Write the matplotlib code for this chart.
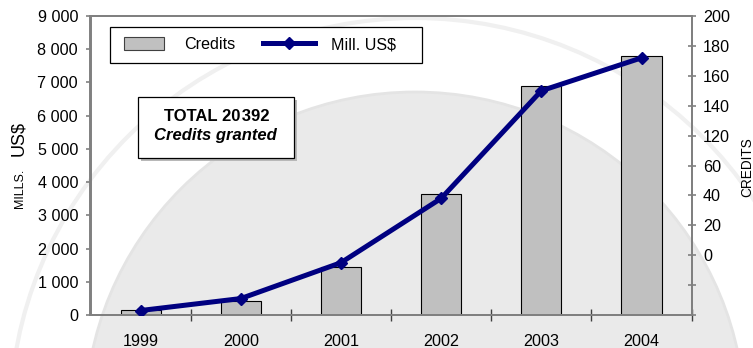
import numpy as np
import matplotlib
matplotlib.use("Agg")
import matplotlib.pyplot as plt
from matplotlib.patches import Rectangle, Ellipse
from matplotlib.transforms import IdentityTransform
from matplotlib.legend_handler import HandlerLine2D
from matplotlib.ticker import FixedLocator, FixedFormatter

plt.rcParams['font.family'] = ['Liberation Sans', 'DejaVu Sans']

# ---- data ----
years = ['1999', '2000', '2001', '2002', '2003', '2004']
credits = [165, 435, 1440, 3650, 6900, 7802]          # credits granted per year
mill_usd = [3, 11, 35, 78, 150, 172]                  # amount, millions of US$
left_ticks = [0, 1000, 2000, 3000, 4000, 5000, 6000, 7000, 8000, 9000]
right_ticks = [0, 20, 40, 60, 80, 100, 120, 140, 160, 180, 200]
right_tick_labels = ['', '', '0', '20', '40', '60', '120', '140', '160', '180', '200']

W, H = 753, 348
fig = plt.figure(figsize=(W / 100, H / 100), dpi=100)

# faint seal in the background (display pixel coordinates)
cx, cy = 415, H - 420
fig.add_artist(Ellipse((cx, cy), 2 * 405, 2 * 402, transform=IdentityTransform(),
                       facecolor='none', edgecolor='#f0f0f0', lw=3, zorder=-10))
fig.add_artist(Ellipse((cx, cy), 2 * 330, 2 * 328, transform=IdentityTransform(),
                       facecolor='#eaeaea', edgecolor='#e4e4e4', lw=2, zorder=-9))

def px(x0, y0, x1, y1):
    return [x0 / W, 1 - y1 / H, (x1 - x0) / W, (y1 - y0) / H]

ax = fig.add_axes(px(90.5, 16, 691.6, 315))
ax.set_facecolor('none')
x = np.arange(len(years))

bars = ax.bar(x, credits, width=0.4, color='#c0c0c0', edgecolor='black',
              linewidth=0.8, label='Credits', zorder=2)
ax.set_xlim(-0.5, len(years) - 0.5)
ax.set_ylim(0, 9000)
ax.yaxis.set_major_locator(FixedLocator(left_ticks))
ax.yaxis.set_major_formatter(FixedFormatter([f"{v:,}".replace(',', ' ') for v in left_ticks]))

# category boundary ticks (major) and year labels (minor)
ax.set_xticks(np.arange(0.5, len(years) - 0.4, 1.0))
ax.set_xticklabels([])
ax.set_xticks(x, minor=True)
ax.set_xticklabels(years, minor=True)
ax.tick_params(axis='x', which='major', direction='inout', length=8,
               width=1, color='#404040')
ax.tick_params(axis='x', which='minor', length=0, pad=14, labelsize=11.6)
ax.tick_params(axis='y', direction='out', length=3.3, width=1.2,
               color='#808080', pad=5.7, labelsize=11.6)

for side in ['left', 'right', 'top', 'bottom']:
    ax.spines[side].set_color('#808080')
    ax.spines[side].set_linewidth(1.4)

ax2 = ax.twinx()
ax2.set_facecolor('none')
line, = ax2.plot(x, mill_usd, color='#000080', lw=3.6, marker='D', ms=6,
                 mec='#000080', mfc='#000080', label='Mill. US$', zorder=3)
ax2.set_ylim(0, 200)
ax2.yaxis.set_major_locator(FixedLocator(right_ticks))
ax2.yaxis.set_major_formatter(FixedFormatter(right_tick_labels))
ax2.tick_params(axis='y', direction='inout', length=6, width=1.2,
                color='#808080', pad=5.2, labelsize=11.6)
for side in ['left', 'right', 'top', 'bottom']:
    ax2.spines[side].set_color('#808080')
    ax2.spines[side].set_linewidth(1.4)


class WideLineHandler(HandlerLine2D):
    def get_xdata(self, legend, xdescent, ydescent, width, height, fontsize):
        xd, xm = super().get_xdata(legend, xdescent, ydescent, width, height, fontsize)
        return [xd[0] - 5.5, xd[-1] + 2.9], xm


# legend frame and entries
ax2.add_patch(Rectangle((110, H - 63.3), 311.7, 36, transform=IdentityTransform(),
                        facecolor='white', edgecolor='black', lw=0.9, zorder=4.5,
                        clip_on=False))
leg = ax2.legend([bars, line], ['Credits', 'Mill. US$'], ncol=2,
                 loc='center left', bbox_to_anchor=(115.7 / W, 1 - 44.7 / H),
                 bbox_transform=fig.transFigure, frameon=False, borderpad=0,
                 fontsize=11.6, handlelength=2.5, handleheight=0.8,
                 handletextpad=1.25, columnspacing=2.2,
                 handler_map={line: WideLineHandler()})
leg.set_zorder(5)
for p in leg.get_patches():
    p.set_edgecolor('#404040')

# total box with shadow
total = sum(credits)
fig.add_artist(Rectangle((141.3, H - 161.3), 156.1, 61.6, transform=IdentityTransform(),
                         facecolor='#b8b8b8', edgecolor='none', zorder=2))
fig.add_artist(Rectangle((138.3, H - 158.3), 156.1, 61.6, transform=IdentityTransform(),
                         facecolor='white', edgecolor='black', lw=0.9, zorder=3))
fig.text(216.4 / W, 1 - 120.7 / H, f"TOTAL {total:,}".replace(',', '\u200a'),
         ha='center', va='baseline', fontsize=12, fontweight='bold', zorder=4)
fig.text(215.5 / W, 1 - 140 / H, 'Credits granted', ha='center', va='baseline',
         fontsize=12, fontweight='bold', fontstyle='italic', zorder=4)

# axis titles
fig.text(23.5 / W, 1 - 139 / H, 'US$', rotation=90, rotation_mode='anchor',
         ha='center', va='baseline', fontsize=13)
fig.text(23 / W, 1 - 188 / H, 'MILLS.', rotation=90, rotation_mode='anchor',
         ha='center', va='baseline', fontsize=9)
fig.text(751 / W, 1 - 167 / H, 'CREDITS', rotation=90, rotation_mode='anchor',
         ha='center', va='baseline', fontsize=9.8)

fig.savefig('out.png', dpi=100)
